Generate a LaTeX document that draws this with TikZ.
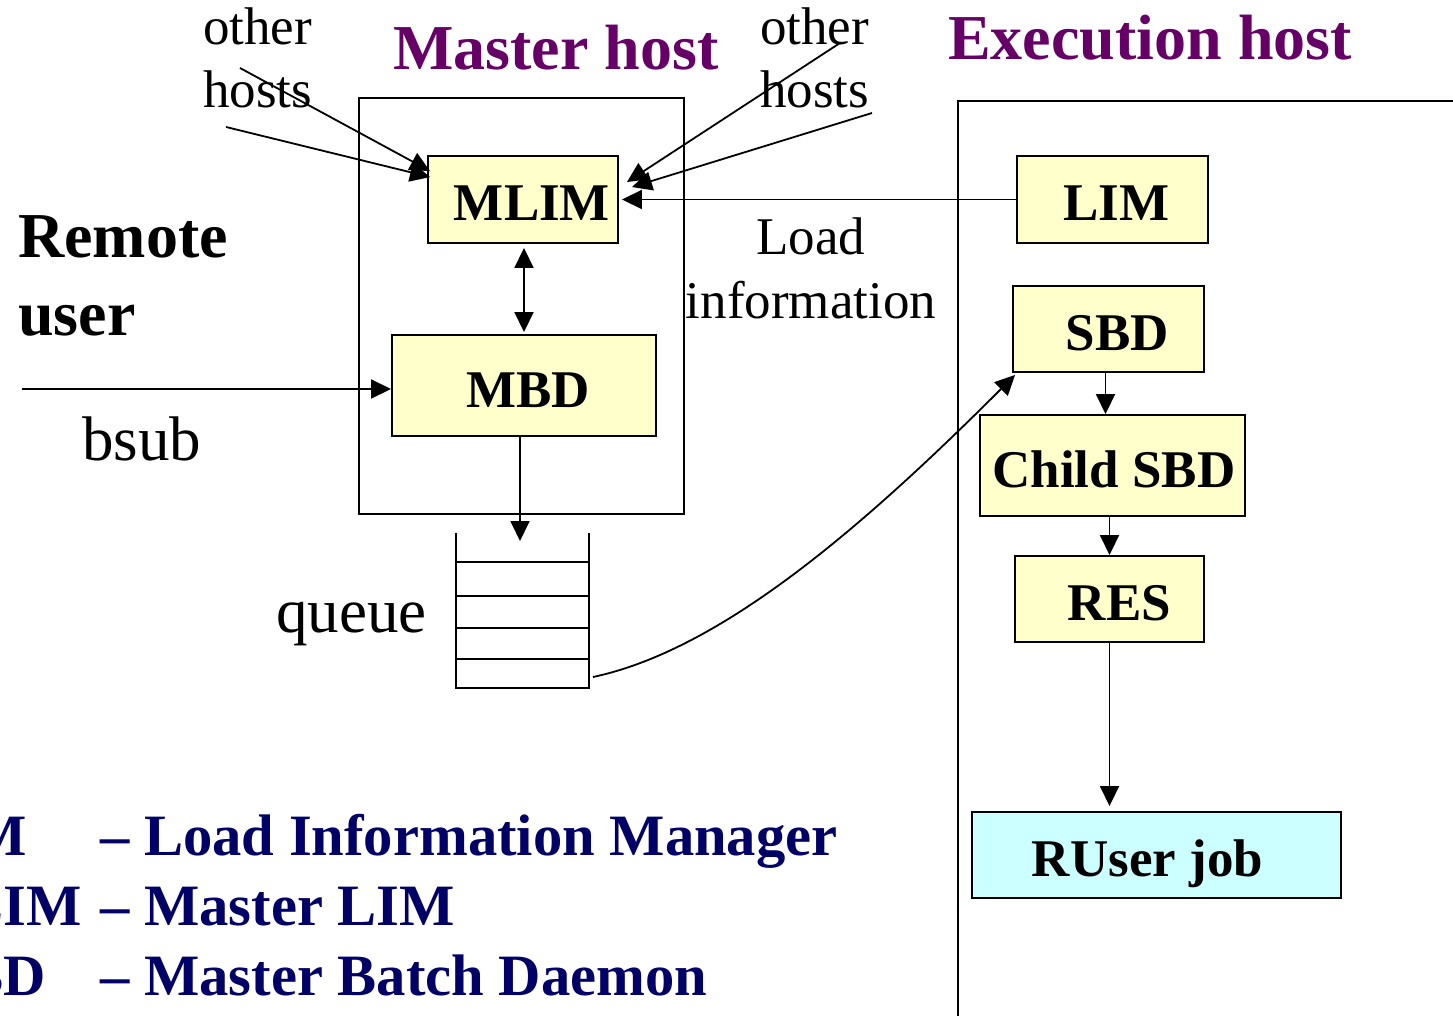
\documentclass[tikz,border=0pt]{standalone}
\usepackage{fontspec}
\setmainfont{Liberation Serif}
\usetikzlibrary{arrows.meta,calc}
\definecolor{mpurple}{HTML}{660066}
\definecolor{mnavy}{HTML}{000066}
\definecolor{boxyellow}{HTML}{FFFFCC}
\definecolor{boxcyan}{HTML}{CCFFFF}
\newcommand\fsz[1]{\fontsize{#1}{#1}\selectfont}
\begin{document}
\begin{tikzpicture}[x=1pt,y=-1pt,
  lbl/.style={inner sep=0pt, anchor=base west},
  clbl/.style={inner sep=0pt, anchor=base},
  title/.style={lbl, font=\fsz{64}\bfseries, text=mpurple},
  legend/.style={lbl, font=\fsz{58.6}\bfseries, text=mnavy},
  small/.style={font=\fsz{53}},
  big/.style={font=\fsz{63}},
  bigb/.style={font=\fsz{64}\bfseries},
  box/.style={draw, line width=1.9pt, fill=boxyellow, inner sep=0pt,
    font=\fsz{53}\bfseries, text height=43pt, text depth=0pt},
  frame/.style={draw, line width=1.9pt, inner sep=0pt},
  arr/.style={-{Triangle[length=20pt,width=19pt]}, line width=1.8pt},
  darr/.style={{Triangle[length=20pt,width=19pt]}-{Triangle[length=20pt,width=19pt]}, line width=1.8pt},
  plain/.style={line width=1.9pt}
]
\useasboundingbox (0,0) rectangle (1453,1016);
\clip (0,0) rectangle (1453,1016);

% titles
\node[title] (tmaster) at (393,70) {Master host};
\node[title] (texec) at (948,60) {Execution host};

% frames
\node[frame, minimum width=325pt, minimum height=416pt] (master) at (521.5,306) {};
\draw[plain] (958,1016) -- (958,101) -- (1453,101);

% boxes
\node[box, minimum width=190pt, minimum height=87pt] (mlim) at (523,199.5) {\hspace*{18pt}MLIM};
\node[box, minimum width=264pt, minimum height=101pt] (mbd) at (524,385.5) {\hspace*{8pt}MBD};
\node[box, minimum width=191pt, minimum height=87pt] (lim) at (1112.5,199.5) {\hspace*{8pt}LIM};
\node[box, minimum width=191pt, minimum height=86pt] (sbd) at (1108.5,329) {\hspace*{18pt}SBD};
\node[box, minimum width=265pt, minimum height=101pt] (child) at (1112.5,465.5) {\hspace*{3pt}Child SBD};
\node[box, minimum width=189pt, minimum height=86pt] (res) at (1109.5,599) {\hspace*{20pt}RES};
\node[box, fill=boxcyan, minimum width=369pt, minimum height=86pt] (ruser) at (1156.5,855) {RUser job\hspace*{18pt}};

% labels
\node[lbl, small] (oth1a) at (203,45) {other};
\node[lbl, small] (oth1b) at (203,108) {hosts};
\node[lbl, small] (oth2a) at (760,45) {other};
\node[lbl, small] (oth2b) at (760,108) {hosts};
\node[clbl, small] (load1) at (811,255) {Load};
\node[clbl, small] (load2) at (811,318) {information};
\node[lbl, bigb] (rem1) at (18,258) {Remote};
\node[lbl, bigb] (rem2) at (18,335) {user};
\node[lbl, big] (bsub) at (82,460) {bsub};
\node[lbl, big] (queue) at (276,632) {queue};

% queue
\draw[plain] (456,533) -- (456,688) -- (589,688) -- (589,533);
\foreach \yy in {562,596,628,659} \draw[plain] (456,\yy) -- (589,\yy);
\coordinate (qin) at (520,541);
\coordinate (qout) at (593,677);

% free ends
\coordinate (l1) at (240,68);
\coordinate (l2) at (226,127);
\coordinate (r1) at (840,43);
\coordinate (r2) at (872,113);
\coordinate (usr) at (22,389);

% connectors
\draw[arr] (l1) -- ($(mlim.north west)+(3,16)$);
\draw[arr] (l2) -- ($(mlim.north west)+(3,22)$);
\draw[arr] (r1) -- ($(mlim.north east)+(8,27)$);
\draw[arr] (r2) -- ($(mlim.north east)+(13,32)$);
\draw[arr] (lim.west) -- ($(mlim.east)+(3,0)$);
\draw[darr] ($(mlim.south)+(1,4)$) -- ($(mbd.north)+(0,-2)$);
\draw[arr] (usr) -- (usr -| mbd.west);
\draw[arr] ($(mbd.south)+(-4,0)$) -- (qin);
\draw[arr] (qout) .. controls (720,650) and (860,530) .. ($(sbd.south west)+(3,2)$);
\coordinate (sbdout) at ($(sbd.south)+(-3,0)$);
\draw[arr] (sbdout) -- (sbdout |- child.north);
\draw[arr] (res.north |- child.south) -- (res.north);
\draw[arr] (res.south) -- ($(res.south |- ruser.north)+(0,-5)$);

% legend
\node[legend] (ab1) at (-91,855) {LIM};
\node[legend] (ab2) at (-91,925) {MLIM};
\node[legend] (ab3) at (-91,995) {MBD};
\node[legend] (de1) at (100,855) {– Load Information Manager};
\node[legend] (de2) at (100,925) {– Master LIM};
\node[legend] (de3) at (100,995) {– Master Batch Daemon};
\end{tikzpicture}
\end{document}
